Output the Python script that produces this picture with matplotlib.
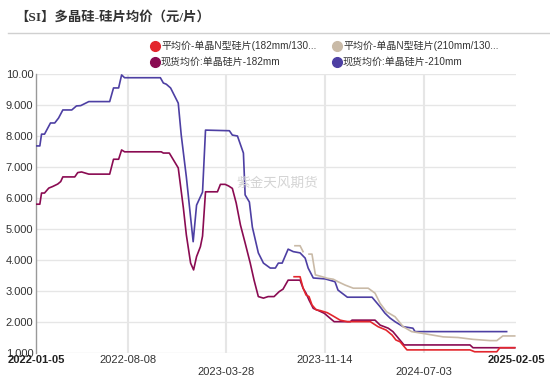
import numpy as np
import pandas as pd
import matplotlib
matplotlib.use('Agg')
import matplotlib.pyplot as plt
import matplotlib.dates as mdates
from matplotlib.lines import Line2D

plt.rcParams['font.family'] = ['Liberation Sans', 'Noto Sans CJK SC']

# 现货均价:单晶硅片-210mm
blue_dates = ['2022-01-05', '2022-01-14', '2022-01-18', '2022-01-25', '2022-02-08', '2022-02-18',
              '2022-02-27', '2022-03-09', '2022-03-30', '2022-04-10', '2022-04-20', '2022-05-09',
              '2022-06-27', '2022-07-06', '2022-07-18', '2022-07-25', '2022-08-01', '2022-10-24',
              '2022-10-31', '2022-11-07', '2022-11-17', '2022-12-05', '2022-12-12', '2022-12-24',
              '2023-01-09', '2023-01-17', '2023-01-31', '2023-02-07', '2023-04-04', '2023-04-11',
              '2023-04-23', '2023-05-07', '2023-05-11', '2023-05-21', '2023-05-28', '2023-06-11',
              '2023-06-23', '2023-07-09', '2023-07-21', '2023-07-28', '2023-08-06', '2023-08-20',
              '2023-09-01', '2023-09-17', '2023-09-29', '2023-10-06', '2023-10-18', '2023-11-15',
              '2023-12-08', '2023-12-15', '2024-01-06', '2024-03-04', '2024-03-23', '2024-04-03',
              '2024-04-15', '2024-04-27', '2024-05-16', '2024-06-08', '2024-06-13', '2025-01-14']
blue_vals = [7.68, 7.68, 8.06, 8.06, 8.42, 8.42,
             8.58, 8.84, 8.84, 8.97, 8.98, 9.11,
             9.11, 9.55, 9.55, 9.97, 9.88, 9.88,
             9.71, 9.67, 9.55, 9.06, 8.03, 6.68,
             4.59, 5.77, 6.19, 8.19, 8.17, 8.03,
             8.00, 7.45, 6.10, 5.87, 5.06, 4.23,
             3.90, 3.74, 3.74, 3.90, 3.90, 4.35,
             4.27, 4.23, 4.06, 3.74, 3.42, 3.39,
             3.30, 3.03, 2.80, 2.80, 2.49, 2.29,
             2.13, 2.01, 1.85, 1.80, 1.69, 1.69]

# 现货均价:单晶硅片-182mm
purple_dates = ['2022-01-05', '2022-01-14', '2022-01-18', '2022-01-25', '2022-02-04', '2022-02-13',
                '2022-02-25', '2022-03-04', '2022-03-09', '2022-04-06', '2022-04-13', '2022-04-22',
                '2022-05-09', '2022-06-27', '2022-07-06', '2022-07-18', '2022-07-25', '2022-08-01',
                '2022-10-26', '2022-10-31', '2022-11-14', '2022-12-05', '2022-12-17', '2022-12-24',
                '2023-01-03', '2023-01-10', '2023-01-17', '2023-01-26', '2023-01-31', '2023-02-07',
                '2023-03-07', '2023-03-14', '2023-03-25', '2023-04-02', '2023-04-11', '2023-04-20',
                '2023-04-30', '2023-05-11', '2023-05-23', '2023-06-01', '2023-06-11', '2023-06-23',
                '2023-07-04', '2023-07-18', '2023-07-30', '2023-08-08', '2023-08-20', '2023-09-17',
                '2023-09-24', '2023-10-01', '2023-10-08', '2023-10-18', '2023-10-30', '2023-11-13',
                '2023-11-24', '2023-12-06', '2024-01-13', '2024-01-17', '2024-03-11', '2024-03-23',
                '2024-04-11', '2024-04-22', '2024-05-18', '2024-10-20', '2024-10-27', '2025-02-02']
purple_vals = [5.80, 5.80, 6.16, 6.16, 6.32, 6.37,
               6.45, 6.53, 6.68, 6.68, 6.82, 6.84,
               6.77, 6.77, 7.25, 7.25, 7.55, 7.49,
               7.49, 7.45, 7.45, 6.97, 5.68, 4.81,
               3.90, 3.68, 4.11, 4.43, 4.77, 6.20,
               6.20, 6.44, 6.44, 6.39, 6.31, 5.84,
               5.13, 4.55, 3.90, 3.35, 2.82, 2.77,
               2.82, 2.82, 2.98, 3.06, 3.35, 3.35,
               3.09, 2.93, 2.71, 2.44, 2.37, 2.28,
               2.15, 2.01, 2.01, 2.06, 2.06, 1.90,
               1.80, 1.69, 1.26, 1.26, 1.17, 1.17]

# 平均价-单晶N型硅片(210mm/130...)
beige_dates = ['2023-09-05', '2023-09-17', '2023-09-24', '2023-10-01', '2023-10-08', '2023-10-15',
               '2023-10-23', '2023-11-08', '2023-11-20', '2023-12-04', '2023-12-15', '2024-01-01',
               '2024-01-20', '2024-02-24', '2024-03-11', '2024-03-23', '2024-04-07', '2024-04-27',
               '2024-05-16', '2024-06-05', '2024-07-02', '2024-08-18', '2024-09-22', '2024-10-27',
               '2024-12-06', '2024-12-22', '2025-01-05', '2025-02-02']
beige_vals = [4.46, 4.46, 4.27, np.nan, 4.19, 4.19,
              3.52, 3.46, 3.41, 3.38, 3.30, 3.19,
              3.09, 3.09, 2.93, 2.60, 2.33, 2.17,
              1.85, 1.69, 1.63, 1.52, 1.50, 1.44,
              1.40, 1.40, 1.55, 1.55]

# 平均价-单晶N型硅片(182mm/130...)
red_dates = ['2023-09-03', '2023-09-17', '2023-09-24', '2023-10-01', '2023-10-08', '2023-10-15',
             '2023-10-25', '2023-11-03', '2023-11-20', '2023-12-04', '2023-12-20', '2024-01-06',
             '2024-02-29', '2024-03-18', '2024-04-06', '2024-04-20', '2024-04-29', '2024-05-09',
             '2024-05-25', '2024-10-20', '2024-10-31', '2024-12-22', '2024-12-29', '2025-02-02']
red_vals = [3.46, 3.46, 3.10, 2.87, 2.82, 2.55,
            2.39, 2.37, 2.30, 2.19, 2.06, 2.01,
            2.01, 1.85, 1.74, 1.58, 1.42, 1.36,
            1.10, 1.10, 1.04, 1.04, 1.17, 1.17]

labels = ['平均价-单晶N型硅片(182mm/130...', '平均价-单晶N型硅片(210mm/130...',
          '现货均价:单晶硅片-182mm', '现货均价:单晶硅片-210mm']
colors = ['#e3262d', '#c9baa7', '#8a0b52', '#4d3fa3']

tick_dates = ['2022-01-05', '2022-08-08', '2023-03-28', '2023-11-14', '2024-07-03', '2025-02-05']
yticks = [1, 2, 3, 4, 5, 6, 7, 8, 9, 10]
ytick_labels = ['1.000', '2.000', '3.000', '4.000', '5.000', '6.000', '7.000', '8.000', '9.000', '10.00']

fig = plt.figure(figsize=(5.5, 3.78), dpi=100)
ax = fig.add_axes([36 / 550, 1 - 353 / 378, (516 - 36) / 550, (353 - 74) / 378])

series = [(red_dates, red_vals), (beige_dates, beige_vals),
          (purple_dates, purple_vals), (blue_dates, blue_vals)]
for i in [3, 2, 1, 0]:
    d, v = series[i]
    ax.plot(pd.to_datetime(d), v, color=colors[i], lw=1.2, zorder=3 + (3 - i))

td = pd.to_datetime(tick_dates)
ax.set_xlim(td[0], td[-1])
ax.set_ylim(1, 10)
ax.set_yticks(yticks)
ax.set_yticklabels(ytick_labels, fontsize=8, color='#333333')
ax.set_xticks(td)
ax.set_xticklabels([])
ax.tick_params(axis='both', length=0, pad=2)

for y in yticks:
    ax.axhline(y, color='#e6e6e6', lw=1, zorder=1)
for t in td[1:-1]:
    ax.axvline(t, color='#e6e6e6', lw=1.5, zorder=1)

for s in ['top', 'right', 'bottom']:
    ax.spines[s].set_visible(False)
ax.spines['left'].set_color('#999999')
ax.spines['left'].set_linewidth(1)

# staggered date labels (offsets in points: 7px and 19px below the axis)
for k, t in enumerate(td):
    bold = k == 0 or k == len(td) - 1
    low = k in (2, 4)
    ax.annotate(tick_dates[k], xy=(mdates.date2num(t), 0), xycoords=('data', 'axes fraction'),
                xytext=(0, -13.5 if low else -5), textcoords='offset points',
                ha='center', va='center', fontsize=8,
                fontweight='bold' if bold else 'normal', color='#222222' if bold else '#333333')

# title
fig.text(15 / 550, 1 - 17 / 378, '【SI】多晶硅-硅片均价（元/片）', fontsize=9.6, fontweight='bold',
         family=['Liberation Serif', 'Noto Sans CJK SC'], color='#333333', va='center', ha='left')
fig.add_artist(Line2D([8 / 550, 1], [1 - 33 / 378, 1 - 33 / 378], transform=fig.transFigure,
                      color='#d0d0d0', lw=1))

# legend
pos = [(155, 46), (337, 46), (155, 62), (337, 62)]
for (px, py), lab, c in zip(pos, labels, colors):
    fig.add_artist(Line2D([px / 550], [1 - py / 378], transform=fig.transFigure, marker='o',
                          markersize=7, color=c, linestyle='none'))
    fig.text((px + 6) / 550, 1 - py / 378, lab, fontsize=7.2, color='#333333',
             va='center', ha='left')

# watermark
fig.text(277 / 550, 1 - 183 / 378, '紫金天风期货', fontsize=9.8, color='#d4d4d4',
         ha='center', va='center', family=['Noto Sans CJK SC'])

fig.savefig('out.png', dpi=100)
